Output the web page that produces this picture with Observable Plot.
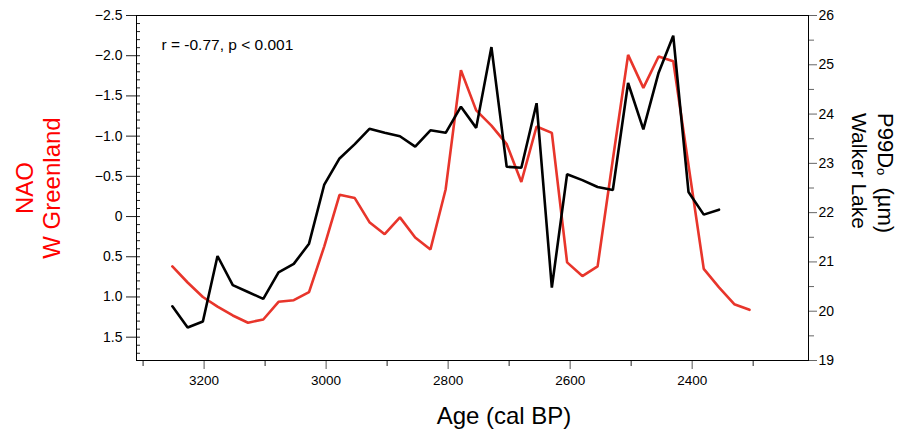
<!DOCTYPE html>
<html>
<head>
<meta charset="utf-8">
<script src="https://cdn.jsdelivr.net/npm/d3@7"></script>
<script src="https://cdn.jsdelivr.net/npm/@observablehq/plot@0.6"></script>
<style>
html, body { margin: 0; padding: 0; background: #fff; }
#chart svg { display: block; }
</style>
</head>
<body>
<div id="chart"></div>
<script>
// ---- data ----
const ages = [3252, 3227, 3202, 3178, 3153, 3128, 3103, 3078, 3053, 3028, 3003, 2978, 2953, 2929, 2904, 2879, 2854, 2829, 2804, 2779, 2754, 2729, 2704, 2680, 2655, 2630, 2605, 2580, 2555, 2530, 2505, 2480, 2455, 2431, 2406, 2381, 2356, 2331, 2306];
const naoWGreenland = [0.62, 0.82, 1.00, 1.12, 1.23, 1.32, 1.28, 1.06, 1.04, 0.94, 0.37, -0.27, -0.23, 0.07, 0.22, 0.01, 0.26, 0.41, -0.34, -1.82, -1.32, -1.13, -0.90, -0.43, -1.12, -1.04, 0.57, 0.74, 0.62, -0.71, -2.01, -1.60, -1.99, -1.93, -0.64, 0.65, 0.88, 1.09, 1.16];
const p99d0WalkerLake = [20.10, 19.67, 19.79, 21.12, 20.53, 20.39, 20.25, 20.79, 20.96, 21.37, 22.57, 23.10, 23.39, 23.70, 23.62, 23.55, 23.34, 23.67, 23.62, 24.15, 23.72, 25.36, 22.93, 22.91, 24.22, 20.48, 22.78, 22.66, 22.52, 22.46, 24.63, 23.69, 24.84, 25.59, 22.42, 21.96, 22.06];

const naoTicks = [-2.5, -2.0, -1.5, -1.0, -0.5, 0, 0.5, 1.0, 1.5];
const p99Ticks = [19, 20, 21, 22, 23, 24, 25, 26];
const p99MinorTicks = [19.5, 20.5, 21.5, 22.5, 23.5, 24.5, 25.5];
const ageTicks = [3200, 3000, 2800, 2600, 2400];
const ageMinorTicks = [3300, 3100, 2900, 2700, 2500, 2300];
const naoMinorTicks = d3.range(-25, 18).map(d => d / 10);

const annotation = "r = -0.77, p < 0.001";
const xTitle = "Age (cal BP)";
const leftTitle = ["NAO", "W Greenland"];
const rightTitle = ["P99D", "o", "(µm)", "Walker Lake"];

// ---- scales ----
const naoDomain = [1.79, -2.5];
const p99Domain = [19, 26];
const ageDomain = [3310.8, 2209.3];
const toLeft = d3.scaleLinear(p99Domain, naoDomain);

const naoData = ages.map((a, i) => ({age: a, v: naoWGreenland[i]}));
const p99Data = p99d0WalkerLake.map((v, i) => ({age: ages[i], v: toLeft(v)}));

const FONT = '"Liberation Sans", Arial, Helvetica, sans-serif';
const W = 910, H = 430, mL = 136, mR = 102, mT = 15, mB = 70;
const innerW = W - mL - mR;

const fmtNao = d => Math.abs(d) < 1e-9 ? "0" : d3.format(".1f")(d);

const svg = Plot.plot({
  width: W, height: H,
  marginLeft: mL, marginRight: mR, marginTop: mT, marginBottom: mB,
  style: {fontFamily: FONT, fontSize: "14px", background: "#fff", color: "#000", overflow: "visible"},
  x: {domain: ageDomain},
  y: {domain: naoDomain},
  marks: [
    Plot.axisX({ticks: ageTicks, tickSize: 9, tickPadding: 5.5, tickFormat: d3.format("d"), label: null, fontSize: 13.5, stroke: "#555"}),
    Plot.axisX({ticks: ageMinorTicks, tickSize: 6, tickFormat: () => "", label: null, stroke: "#222"}),
    Plot.axisY({ticks: naoTicks, tickSize: 10, tickPadding: 4, tickFormat: fmtNao, label: null, fontSize: 14, stroke: "#222"}),
    Plot.tickY(naoMinorTicks, {y: d => d, insetRight: innerW - 4, stroke: "#222", strokeWidth: 1}),
    Plot.axisY({anchor: "right", ticks: p99Ticks.map(toLeft), tickSize: 8, tickPadding: 2, tickFormat: d => String(Math.round(toLeft.invert(d))), label: null, fontSize: 14, stroke: "#666"}),
    Plot.axisY({anchor: "right", ticks: p99MinorTicks.map(toLeft), tickSize: 5, tickFormat: () => "", label: null, stroke: "#666"}),
    Plot.frame({stroke: "#000", strokeWidth: 1}),
    Plot.line(naoData, {x: "age", y: "v", stroke: "#e8352b", strokeWidth: 2.6, strokeLinejoin: "miter"}),
    Plot.line(p99Data, {x: "age", y: "v", stroke: "#000", strokeWidth: 2.6, strokeLinejoin: "miter"}),
    Plot.text([annotation], {text: d => d, frameAnchor: "top-left", textAnchor: "start", lineAnchor: "top", dx: 25, dy: 23, fontSize: 15.5, fill: "#000"})
  ]
});

const s = d3.select(svg);
// x title
s.append("text")
  .attr("transform", "translate(504,423.5)")
  .attr("text-anchor", "middle")
  .attr("font-family", FONT).attr("font-size", 24).attr("fill", "#000")
  .text(xTitle);
// left title (red, two lines)
s.append("text")
  .attr("transform", "translate(33.3,188) rotate(-90)")
  .attr("text-anchor", "middle")
  .attr("font-family", FONT).attr("font-size", 24).attr("fill", "#ff0000")
  .text(leftTitle[0]);
s.append("text")
  .attr("transform", "translate(60,188) rotate(-90)")
  .attr("text-anchor", "middle")
  .attr("font-family", FONT).attr("font-size", 24).attr("fill", "#ff0000")
  .text(leftTitle[1]);
// right title (two lines, rotated clockwise)
const rt = s.append("text")
  .attr("transform", "translate(878.3,113) rotate(90)")
  .attr("text-anchor", "start")
  .attr("font-family", FONT).attr("font-size", 22).attr("fill", "#000")
  .style("white-space", "pre");
rt.append("tspan").text(rightTitle[0]);
rt.append("tspan").attr("font-size", 13).attr("dy", 1).text(rightTitle[1]);
rt.append("tspan").attr("dy", -1).text("\u00a0 " + rightTitle[2]);
s.append("text")
  .attr("transform", "translate(851.7,113) rotate(90)")
  .attr("text-anchor", "start")
  .attr("font-family", FONT).attr("font-size", 21).attr("fill", "#000")
  .text(rightTitle[3]);

document.getElementById("chart").appendChild(svg);
</script>
</body>
</html>
